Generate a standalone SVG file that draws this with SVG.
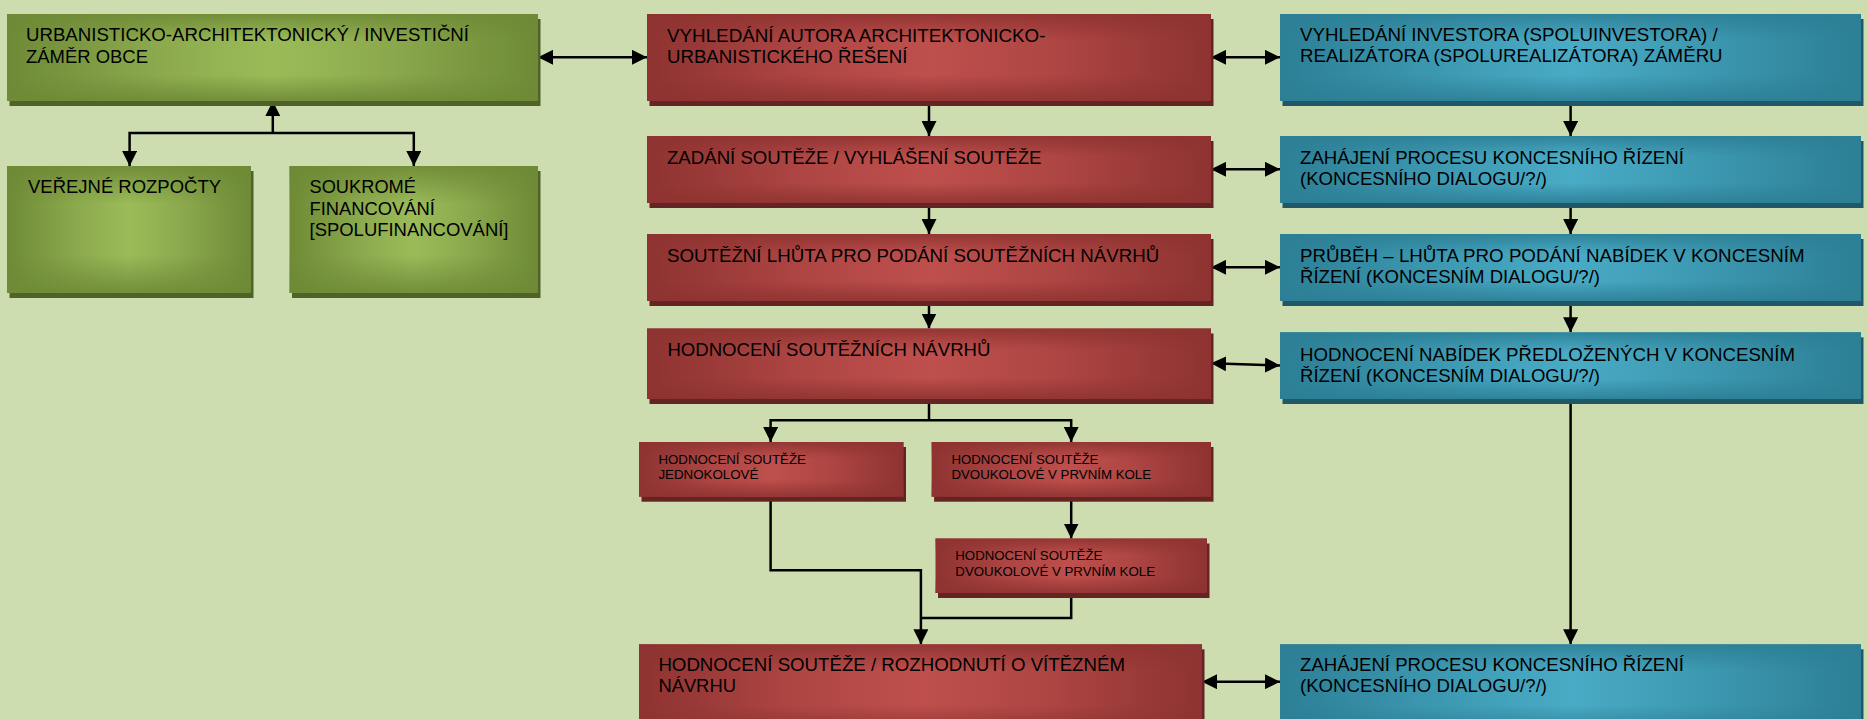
<svg xmlns="http://www.w3.org/2000/svg" width="1868" height="719" viewBox="0 0 1868 719">
<style>
.t{font-family:"Liberation Sans",Arial,sans-serif;font-size:18px;fill:#000}
.s{font-family:"Liberation Sans",Arial,sans-serif;font-size:13.2px;fill:#000}
.c{fill:none;stroke:#000;stroke-width:2.5}
.sg{fill:#4F6228}.sr{fill:#632423}.sb{fill:#215867}
.fg{fill:url(#hg)}.fr{fill:url(#hr)}.fb{fill:url(#hb)}
.vg{fill:url(#vg)}.vr{fill:url(#vr)}.vb{fill:url(#vb)}
</style>
<defs>
<linearGradient id="hg" x1="0" y1="0" x2="1" y2="0"><stop offset="0" stop-color="#6E8A36"/><stop offset="0.3" stop-color="#8DAB4E"/><stop offset="0.5" stop-color="#9BBB59"/><stop offset="0.7" stop-color="#8DAB4E"/><stop offset="1" stop-color="#6E8A36"/></linearGradient>
<linearGradient id="hr" x1="0" y1="0" x2="1" y2="0"><stop offset="0" stop-color="#8E3331"/><stop offset="0.3" stop-color="#B04745"/><stop offset="0.5" stop-color="#BE4F4C"/><stop offset="0.7" stop-color="#B04745"/><stop offset="1" stop-color="#8E3331"/></linearGradient>
<linearGradient id="hb" x1="0" y1="0" x2="1" y2="0"><stop offset="0" stop-color="#2C7F95"/><stop offset="0.3" stop-color="#3E9BB4"/><stop offset="0.5" stop-color="#4AABC6"/><stop offset="0.7" stop-color="#3E9BB4"/><stop offset="1" stop-color="#2C7F95"/></linearGradient>
<linearGradient id="vg" x1="0" y1="0" x2="0" y2="1"><stop offset="0" stop-color="#6E8A36" stop-opacity="0.9"/><stop offset="0.3" stop-color="#6E8A36" stop-opacity="0"/><stop offset="0.7" stop-color="#6E8A36" stop-opacity="0"/><stop offset="1" stop-color="#6E8A36" stop-opacity="0.9"/></linearGradient>
<linearGradient id="vr" x1="0" y1="0" x2="0" y2="1"><stop offset="0" stop-color="#8E3331" stop-opacity="0.9"/><stop offset="0.3" stop-color="#8E3331" stop-opacity="0"/><stop offset="0.7" stop-color="#8E3331" stop-opacity="0"/><stop offset="1" stop-color="#8E3331" stop-opacity="0.9"/></linearGradient>
<linearGradient id="vb" x1="0" y1="0" x2="0" y2="1"><stop offset="0" stop-color="#2C7F95" stop-opacity="0.9"/><stop offset="0.3" stop-color="#2C7F95" stop-opacity="0"/><stop offset="0.7" stop-color="#2C7F95" stop-opacity="0"/><stop offset="1" stop-color="#2C7F95" stop-opacity="0.9"/></linearGradient>
<marker id="ah" markerUnits="userSpaceOnUse" markerWidth="15" markerHeight="15" refX="15" refY="7.5" orient="auto-start-reverse"><path d="M0,0 L15,7.5 L0,15 z" fill="#000"/></marker>
</defs>
<rect width="1868" height="719" fill="#CEDDB0"/>

<g id="connectors">
<path class="c" d="M538,57.3 H647" marker-start="url(#ah)" marker-end="url(#ah)"/>
<path class="c" d="M272.8,133 V101" marker-end="url(#ah)"/>
<path class="c" d="M129.6,166 V133 H413.8 V166" marker-start="url(#ah)" marker-end="url(#ah)"/>
<path class="c" d="M929,101 V136" marker-end="url(#ah)"/>
<path class="c" d="M929,203 V234" marker-end="url(#ah)"/>
<path class="c" d="M929,301 V328.5" marker-end="url(#ah)"/>
<path class="c" d="M929,399 V420.3"/>
<path class="c" d="M770.6,442 V420.3 H1071.2 V442" marker-start="url(#ah)" marker-end="url(#ah)"/>
<path class="c" d="M1071.2,496.7 V538.5" marker-end="url(#ah)"/>
<path class="c" d="M770.6,496.7 V570.3 H920.9 V644.3" marker-end="url(#ah)"/>
<path class="c" d="M1071.2,593 V618 H920.9"/>
<path class="c" d="M1570.6,101 V136" marker-end="url(#ah)"/>
<path class="c" d="M1570.6,203 V234" marker-end="url(#ah)"/>
<path class="c" d="M1570.6,301 V332.3" marker-end="url(#ah)"/>
<path class="c" d="M1570.6,399 V644.3" marker-end="url(#ah)"/>
<path class="c" d="M1211,57.3 H1280" marker-start="url(#ah)" marker-end="url(#ah)"/>
<path class="c" d="M1211,169.3 H1280" marker-start="url(#ah)" marker-end="url(#ah)"/>
<path class="c" d="M1211,267.3 H1280" marker-start="url(#ah)" marker-end="url(#ah)"/>
<path class="c" d="M1211,363.3 L1280,365.5" marker-start="url(#ah)" marker-end="url(#ah)"/>
<path class="c" d="M1202,681.7 H1280" marker-start="url(#ah)" marker-end="url(#ah)"/>
</g>

<g id="g1">
<rect class="sg" x="9.5" y="19" width="531" height="87"/>
<rect class="fg" x="7" y="14" width="531" height="87"/><rect class="vg" x="7" y="14" width="531" height="87"/>
<text class="t" x="26" y="41" textLength="443" lengthAdjust="spacingAndGlyphs">URBANISTICKO-ARCHITEKTONICKÝ / INVESTIČNÍ</text>
<text class="t" x="26" y="62.5" textLength="122" lengthAdjust="spacingAndGlyphs">ZÁMĚR OBCE</text>
</g>
<g id="g2">
<rect class="sg" x="9.5" y="171" width="244" height="127"/>
<rect class="fg" x="7" y="166" width="244" height="127"/><rect class="vg" x="7" y="166" width="244" height="127"/>
<text class="t" x="28" y="193" textLength="193" lengthAdjust="spacingAndGlyphs">VEŘEJNÉ ROZPOČTY</text>
</g>
<g id="g3">
<rect class="sg" x="292" y="171" width="248.5" height="127"/>
<rect class="fg" x="289.5" y="166" width="248.5" height="127"/><rect class="vg" x="289.5" y="166" width="248.5" height="127"/>
<text class="t" x="309.5" y="193" textLength="106.5" lengthAdjust="spacingAndGlyphs">SOUKROMÉ</text>
<text class="t" x="309.5" y="214.5" textLength="125.4" lengthAdjust="spacingAndGlyphs">FINANCOVÁNÍ</text>
<text class="t" x="309.5" y="236" textLength="199" lengthAdjust="spacingAndGlyphs">[SPOLUFINANCOVÁNÍ]</text>
</g>

<g id="r1">
<rect class="sr" x="649.5" y="19" width="564" height="87"/>
<rect class="fr" x="647" y="14" width="564" height="87"/><rect class="vr" x="647" y="14" width="564" height="87"/>
<text class="t" x="667" y="41.5" textLength="378.4" lengthAdjust="spacingAndGlyphs">VYHLEDÁNÍ AUTORA ARCHITEKTONICKO-</text>
<text class="t" x="667" y="62.5" textLength="240.4" lengthAdjust="spacingAndGlyphs">URBANISTICKÉHO ŘEŠENÍ</text>
</g>
<g id="r2">
<rect class="sr" x="649.5" y="141" width="564" height="67"/>
<rect class="fr" x="647" y="136" width="564" height="67"/><rect class="vr" x="647" y="136" width="564" height="67"/>
<text class="t" x="667" y="164" textLength="374.5" lengthAdjust="spacingAndGlyphs">ZADÁNÍ SOUTĚŽE / VYHLÁŠENÍ SOUTĚŽE</text>
</g>
<g id="r3">
<rect class="sr" x="649.5" y="239" width="564" height="67"/>
<rect class="fr" x="647" y="234" width="564" height="67"/><rect class="vr" x="647" y="234" width="564" height="67"/>
<text class="t" x="667" y="261.7" textLength="492.3" lengthAdjust="spacingAndGlyphs">SOUTĚŽNÍ LHŮTA PRO PODÁNÍ SOUTĚŽNÍCH NÁVRHŮ</text>
</g>
<g id="r4">
<rect class="sr" x="649.5" y="333.5" width="564" height="70.5"/>
<rect class="fr" x="647" y="328.5" width="564" height="70.5"/><rect class="vr" x="647" y="328.5" width="564" height="70.5"/>
<text class="t" x="667.4" y="356" textLength="323" lengthAdjust="spacingAndGlyphs">HODNOCENÍ SOUTĚŽNÍCH NÁVRHŮ</text>
</g>
<g id="ra">
<rect class="sr" x="641.5" y="447" width="264.5" height="54.7"/>
<rect class="fr" x="639" y="442" width="264.5" height="54.7"/><rect class="vr" x="639" y="442" width="264.5" height="54.7"/>
<text class="s" x="658.4" y="464.3" textLength="147.5" lengthAdjust="spacingAndGlyphs">HODNOCENÍ SOUTĚŽE</text>
<text class="s" x="658.4" y="479.3" textLength="100" lengthAdjust="spacingAndGlyphs">JEDNOKOLOVÉ</text>
</g>
<g id="rb">
<rect class="sr" x="934.1" y="447" width="279.4" height="54.7"/>
<rect class="fr" x="931.6" y="442" width="279.4" height="54.7"/><rect class="vr" x="931.6" y="442" width="279.4" height="54.7"/>
<text class="s" x="951.4" y="464.3" textLength="147" lengthAdjust="spacingAndGlyphs">HODNOCENÍ SOUTĚŽE</text>
<text class="s" x="951.4" y="479.3" textLength="199.7" lengthAdjust="spacingAndGlyphs">DVOUKOLOVÉ V PRVNÍM KOLE</text>
</g>
<g id="rc">
<rect class="sr" x="938" y="543.5" width="271.5" height="54.5"/>
<rect class="fr" x="935.5" y="538.5" width="271.5" height="54.5"/><rect class="vr" x="935.5" y="538.5" width="271.5" height="54.5"/>
<text class="s" x="955.3" y="560.3" textLength="147" lengthAdjust="spacingAndGlyphs">HODNOCENÍ SOUTĚŽE</text>
<text class="s" x="955.3" y="575.7" textLength="199.7" lengthAdjust="spacingAndGlyphs">DVOUKOLOVÉ V PRVNÍM KOLE</text>
</g>
<g id="r5">
<rect class="sr" x="641.5" y="649.3" width="563" height="87"/>
<rect class="fr" x="639" y="644.3" width="563" height="87"/><rect class="vr" x="639" y="644.3" width="563" height="87"/>
<text class="t" x="658.4" y="671" textLength="466.6" lengthAdjust="spacingAndGlyphs">HODNOCENÍ SOUTĚŽE / ROZHODNUTÍ O VÍTĚZNÉM</text>
<text class="t" x="658.4" y="691.7" textLength="77.5" lengthAdjust="spacingAndGlyphs">NÁVRHU</text>
</g>

<g id="b1">
<rect class="sb" x="1282.5" y="19" width="581" height="87"/>
<rect class="fb" x="1280" y="14" width="581" height="87"/><rect class="vb" x="1280" y="14" width="581" height="87"/>
<text class="t" x="1300" y="40.7" textLength="417.6" lengthAdjust="spacingAndGlyphs">VYHLEDÁNÍ INVESTORA (SPOLUINVESTORA) /</text>
<text class="t" x="1300" y="62.3" textLength="422.6" lengthAdjust="spacingAndGlyphs">REALIZÁTORA (SPOLUREALIZÁTORA) ZÁMĚRU</text>
</g>
<g id="b2">
<rect class="sb" x="1282.5" y="141" width="581" height="67"/>
<rect class="fb" x="1280" y="136" width="581" height="67"/><rect class="vb" x="1280" y="136" width="581" height="67"/>
<text class="t" x="1300" y="164" textLength="383.9" lengthAdjust="spacingAndGlyphs">ZAHÁJENÍ PROCESU KONCESNÍHO ŘÍZENÍ</text>
<text class="t" x="1300" y="185" textLength="247" lengthAdjust="spacingAndGlyphs">(KONCESNÍHO DIALOGU/?/)</text>
</g>
<g id="b3">
<rect class="sb" x="1282.5" y="239" width="581" height="67"/>
<rect class="fb" x="1280" y="234" width="581" height="67"/><rect class="vb" x="1280" y="234" width="581" height="67"/>
<text class="t" x="1300" y="261.7" textLength="504.5" lengthAdjust="spacingAndGlyphs">PRŮBĚH – LHŮTA PRO PODÁNÍ NABÍDEK V KONCESNÍM</text>
<text class="t" x="1300" y="282.7" textLength="300" lengthAdjust="spacingAndGlyphs">ŘÍZENÍ (KONCESNÍM DIALOGU/?/)</text>
</g>
<g id="b4">
<rect class="sb" x="1282.5" y="337.3" width="581" height="66.7"/>
<rect class="fb" x="1280" y="332.3" width="581" height="66.7"/><rect class="vb" x="1280" y="332.3" width="581" height="66.7"/>
<text class="t" x="1300" y="360.7" textLength="495" lengthAdjust="spacingAndGlyphs">HODNOCENÍ NABÍDEK PŘEDLOŽENÝCH V KONCESNÍM</text>
<text class="t" x="1300" y="381.7" textLength="300" lengthAdjust="spacingAndGlyphs">ŘÍZENÍ (KONCESNÍM DIALOGU/?/)</text>
</g>
<g id="b5">
<rect class="sb" x="1282.5" y="649.3" width="581" height="87"/>
<rect class="fb" x="1280" y="644.3" width="581" height="87"/><rect class="vb" x="1280" y="644.3" width="581" height="87"/>
<text class="t" x="1300" y="671" textLength="383.9" lengthAdjust="spacingAndGlyphs">ZAHÁJENÍ PROCESU KONCESNÍHO ŘÍZENÍ</text>
<text class="t" x="1300" y="692.3" textLength="247" lengthAdjust="spacingAndGlyphs">(KONCESNÍHO DIALOGU/?/)</text>
</g>
</svg>
